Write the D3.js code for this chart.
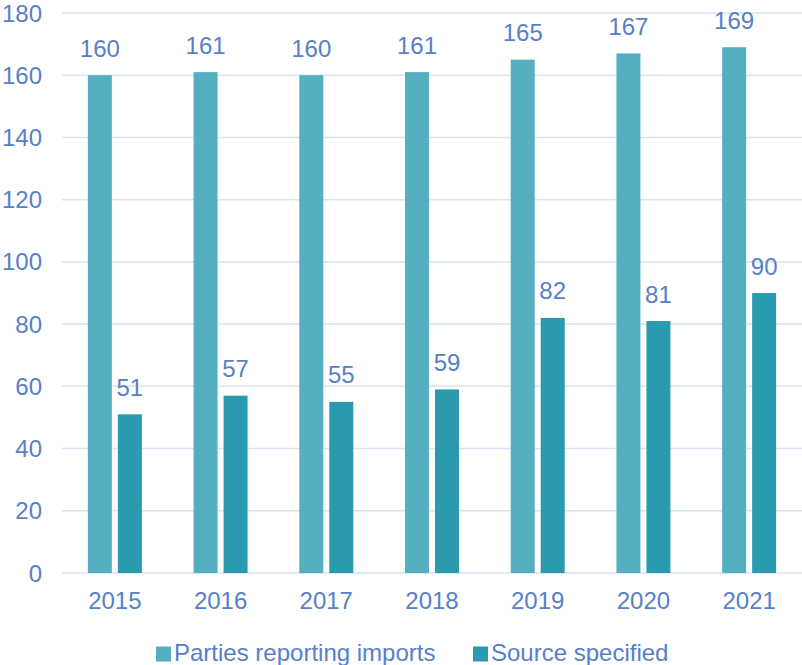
<!DOCTYPE html>
<html><head><meta charset="utf-8">
<script src="https://cdn.jsdelivr.net/npm/d3@7"></script>
<style>body{margin:0;background:#fff;}svg{display:block;font-family:"Liberation Sans",Arial,sans-serif;}</style>
</head><body><svg id="c" width="802" height="665"></svg>
<script>
const years = ["2015","2016","2017","2018","2019","2020","2021"];
const partiesReporting = [160,161,160,161,165,167,169];
const sourceSpecified = [51,57,55,59,82,81,90];
const seriesNames = ["Parties reporting imports","Source specified"];
const yTicks = [0,20,40,60,80,100,120,140,160,180];

const colors = ["#56AFC1","#2A9BAF"];
const textColor = "#5680C8";
const fs = 24;
const svg = d3.select("#c");
const x = d3.scaleBand().domain(years).range([62,802]).paddingInner(0).paddingOuter(0);
const y = d3.scaleLinear().domain([0,180]).range([573,13]);
const barW = 24, gap = 6;

// gridlines
svg.append("g").selectAll("line").data(yTicks).join("line")
  .attr("x1",62).attr("x2",802)
  .attr("y1",d=>y(d)).attr("y2",d=>y(d))
  .attr("stroke","#D9E2F3").attr("stroke-width",1.5);

// y labels
svg.append("g").selectAll("text").data(yTicks).join("text")
  .attr("x",42).attr("y",d=>y(d)+8.5)
  .attr("text-anchor","end").attr("font-size",fs).attr("fill",textColor)
  .text(d=>d);

const series = [partiesReporting, sourceSpecified];
series.forEach((vals,si)=>{
  const off = si===0 ? -gap/2-barW : gap/2;
  const g = svg.append("g");
  g.selectAll("rect").data(years).join("rect")
    .attr("x",(d)=>x(d)+x.bandwidth()/2+off)
    .attr("y",(d,i)=>y(vals[i]))
    .attr("width",barW)
    .attr("height",(d,i)=>y(0)-y(vals[i]))
    .attr("fill",colors[si]);
  g.selectAll("text").data(years).join("text")
    .attr("x",(d)=>x(d)+x.bandwidth()/2+off+barW/2)
    .attr("y",(d,i)=>y(vals[i])-18.5)
    .attr("text-anchor","middle").attr("font-size",fs).attr("fill",textColor)
    .text((d,i)=>vals[i]);
});

// x labels
svg.append("g").selectAll("text").data(years).join("text")
  .attr("x",d=>x(d)+x.bandwidth()/2).attr("y",609)
  .attr("text-anchor","middle").attr("font-size",fs).attr("fill",textColor)
  .text(d=>d);

// legend
const legX = [156,473];
seriesNames.forEach((n,i)=>{
  svg.append("rect").attr("x",legX[i]).attr("y",646.5).attr("width",15).attr("height",15).attr("fill",colors[i]);
  svg.append("text").attr("x",legX[i]+18).attr("y",661).attr("font-size",fs).attr("fill",textColor).text(n);
});
</script></body></html>
